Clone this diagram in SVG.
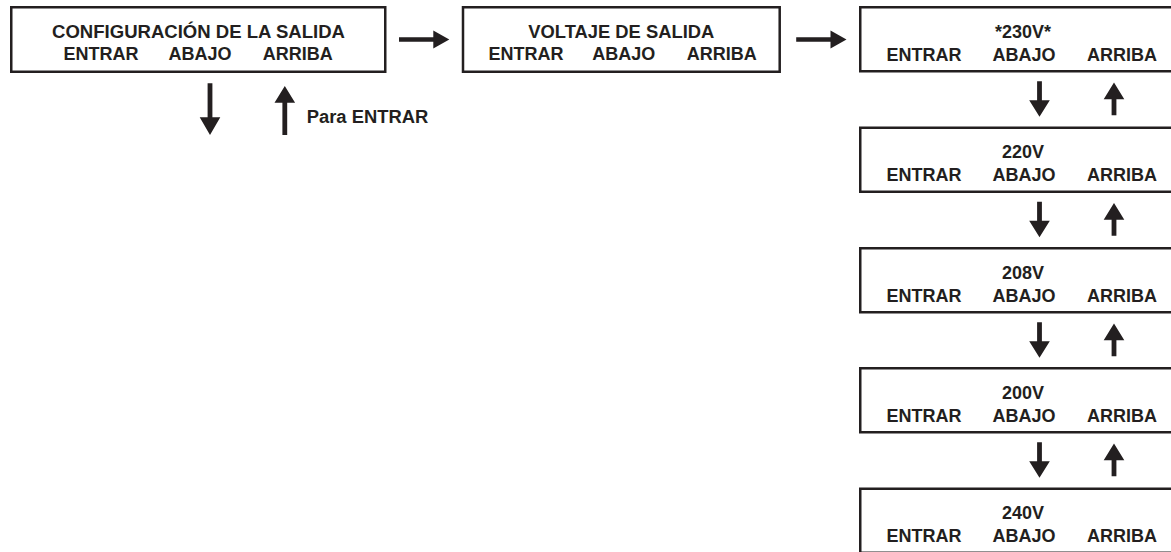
<svg xmlns="http://www.w3.org/2000/svg" width="1171" height="552" viewBox="0 0 1171 552">
<style>
.box{fill:#fff;stroke:#231f20;stroke-width:2.5}
.t{font-family:"Liberation Sans",Arial,Helvetica,sans-serif;font-weight:bold;font-size:18px;fill:#231f20;text-anchor:middle}
.tl{font-family:"Liberation Sans",Arial,Helvetica,sans-serif;font-weight:bold;font-size:18px;fill:#231f20}
.arw{fill:#231f20}
</style>
<defs>
<path id="dn" d="M-2.4,0 H2.4 V19 H10.3 L0,35.6 L-10.3,19 H-2.4 Z"/>
<path id="up" d="M0,0 L10.3,16.7 H2.4 V32.7 H-2.4 V16.7 H-10.3 Z"/>
<path id="rt" d="M0,-2.2 H34.3 V-9 L50.3,0 L34.3,9 V2.2 H0 Z"/>
</defs>
<rect width="1171" height="552" fill="#fff"/>

<g id="config">
<rect class="box" x="11.25" y="7.25" width="374" height="64.5"/>
<text class="t" x="198.5" y="37.5" textLength="293" lengthAdjust="spacingAndGlyphs">CONFIGURACIÓN DE LA SALIDA</text>
<text class="t" x="101" y="59.5">ENTRAR</text>
<text class="t" x="200" y="59.5">ABAJO</text>
<text class="t" x="297.7" y="59.5">ARRIBA</text>
</g>

<g id="voltaje">
<rect class="box" x="463" y="7.25" width="316.7" height="64.5"/>
<text class="t" x="621.3" y="37.5" textLength="186" lengthAdjust="spacingAndGlyphs">VOLTAJE DE SALIDA</text>
<text class="t" x="526" y="59.5">ENTRAR</text>
<text class="t" x="623.7" y="59.5">ABAJO</text>
<text class="t" x="721.8" y="59.5">ARRIBA</text>
</g>

<g id="v230">
<rect class="box" x="860.25" y="7.25" width="400" height="64"/>
<text class="t" x="1023" y="37.7">*230V*</text>
<text class="t" x="924" y="60.5">ENTRAR</text>
<text class="t" x="1024" y="60.5">ABAJO</text>
<text class="t" x="1122" y="60.5">ARRIBA</text>
</g>

<g id="v220">
<rect class="box" x="860.25" y="127.75" width="400" height="64"/>
<text class="t" x="1023" y="158.2">220V</text>
<text class="t" x="924" y="181">ENTRAR</text>
<text class="t" x="1024" y="181">ABAJO</text>
<text class="t" x="1122" y="181">ARRIBA</text>
</g>

<g id="v208">
<rect class="box" x="860.25" y="248.25" width="400" height="64"/>
<text class="t" x="1023" y="278.7">208V</text>
<text class="t" x="924" y="301.5">ENTRAR</text>
<text class="t" x="1024" y="301.5">ABAJO</text>
<text class="t" x="1122" y="301.5">ARRIBA</text>
</g>

<g id="v200">
<rect class="box" x="860.25" y="368.25" width="400" height="64"/>
<text class="t" x="1023" y="398.7">200V</text>
<text class="t" x="924" y="421.5">ENTRAR</text>
<text class="t" x="1024" y="421.5">ABAJO</text>
<text class="t" x="1122" y="421.5">ARRIBA</text>
</g>

<g id="v240">
<rect class="box" x="860.25" y="488.75" width="400" height="64"/>
<text class="t" x="1023" y="519.2">240V</text>
<text class="t" x="924" y="542">ENTRAR</text>
<text class="t" x="1024" y="542">ABAJO</text>
<text class="t" x="1122" y="542">ARRIBA</text>
</g>

<g id="connectors">
<use href="#rt" class="arw" x="399" y="39.5"/>
<use href="#rt" class="arw" x="796.2" y="39.5"/>
<polygon class="arw" points="207.6,83.3 212.4,83.3 212.4,117.3 220.3,117.3 210,135 199.7,117.3 207.6,117.3"/>
<polygon class="arw" points="284.8,86 295.1,102.7 287.2,102.7 287.2,135 282.4,135 282.4,102.7 274.5,102.7"/>
<text class="tl" x="306.7" y="123.3" textLength="121.6" lengthAdjust="spacingAndGlyphs">Para ENTRAR</text>
<use href="#dn" class="arw" x="1039.5" y="81.2"/>
<use href="#up" class="arw" x="1114" y="82.5"/>
<use href="#dn" class="arw" x="1039.5" y="201.7"/>
<use href="#up" class="arw" x="1114" y="203"/>
<use href="#dn" class="arw" x="1039.5" y="322.2"/>
<use href="#up" class="arw" x="1114" y="323.5"/>
<use href="#dn" class="arw" x="1039.5" y="442.2"/>
<use href="#up" class="arw" x="1114" y="443.5"/>
</g>
</svg>
